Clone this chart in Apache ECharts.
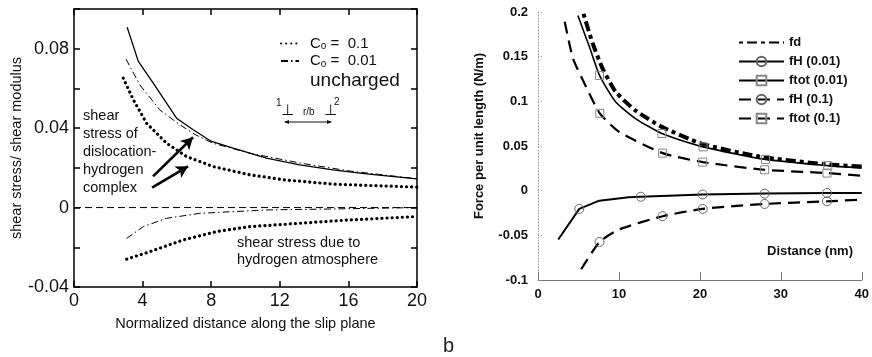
<!DOCTYPE html>
<html>
<head>
<meta charset="utf-8">
<script src="https://cdn.jsdelivr.net/npm/echarts@6/dist/echarts.min.js"></script>
<style>
  html, body { margin: 0; padding: 0; background: #fff; }
  #chart { width: 872px; height: 357px; }
</style>
</head>
<body>
<div id="chart"></div>
<script>
// ---- panel a : normalized shear stress ----
const unchargedX = [3.1, 3.75, 4.62, 5.98, 6.95, 8.02, 9.28, 11.22, 13.16, 15.1, 17.05, 20];
const unchargedY = [0.0908, 0.0736, 0.0627, 0.045, 0.0392, 0.0333, 0.0299, 0.0249, 0.0215, 0.019, 0.017, 0.0145];

const c001TopX = [3.03, 3.84, 5.0, 6.17, 7.1, 8.1, 10.25, 13.2, 16, 20];
const c001TopY = [0.0748, 0.0618, 0.0492, 0.0417, 0.0366, 0.0324, 0.0274, 0.0224, 0.0185, 0.0145];
const c01TopX = [2.87, 3.46, 4.23, 5.4, 6.56, 8.1, 10.25, 12.2, 15.1, 20];
const c01TopY = [0.0652, 0.0543, 0.0425, 0.0324, 0.0257, 0.0207, 0.0165, 0.014, 0.0118, 0.0103];

const c001LowX = [3.07, 4.04, 5.4, 7.34, 11.2, 15.1, 20];
const c001LowY = [-0.0155, -0.0096, -0.0054, -0.0029, -0.0012, -0.0007, 0];
const c01LowX = [3.07, 4.43, 6.37, 8.3, 10.25, 13.2, 16.1, 20];
const c01LowY = [-0.026, -0.0222, -0.0163, -0.0121, -0.0096, -0.0079, -0.0062, -0.0045];

const zeroX = [0, 20];
const zeroY = [0, 0];

// ---- panel b : force per unit length ----
const fdX = [5.62, 6.75, 7.97, 9.58, 12, 15.25, 20.1, 27.4, 35.5, 40];
const fdY = [0.198, 0.165, 0.137, 0.111, 0.09, 0.0717, 0.053, 0.038, 0.0297, 0.027];

const ftot001X = [4.93, 6.35, 7.6, 9.58, 12, 15.3, 20.4, 28.1, 35.8, 40];
const ftot001Y = [0.196, 0.161, 0.129, 0.0996, 0.081, 0.064, 0.049, 0.035, 0.028, 0.0253];
const fH001X = [2.5, 5.1, 7.56, 11.2, 12.7, 20.35, 28, 35.7, 40];
const fH001Y = [-0.0546, -0.0204, -0.0112, -0.0074, -0.0068, -0.0043, -0.0033, -0.0027, -0.0026];

const ftot01X = [3.3, 4.33, 5.95, 7.64, 10, 15.4, 20.35, 28, 35.7, 40];
const ftot01Y = [0.189, 0.148, 0.116, 0.0866, 0.066, 0.042, 0.032, 0.0234, 0.0197, 0.0167];
const fH01X = [5.34, 7.6, 10, 15.4, 20.35, 28, 35.7, 40];
const fH01Y = [-0.088, -0.0575, -0.0435, -0.0286, -0.0204, -0.0149, -0.0119, -0.010];

// x positions that carry a marker
const ftot001Marks = [7.6, 15.3, 20.4, 28.1, 35.8];
const fH001Marks = [5.1, 12.7, 20.35, 28, 35.7];
const ftot01Marks = [7.64, 15.4, 20.35, 28, 35.7];
const fH01Marks = [7.6, 15.4, 20.35, 28, 35.7];

const zip = (xs, ys) => xs.map((x, i) => [x, ys[i]]);
const withMarks = (xs, ys, marks) => xs.map((x, i) => ({
  value: [x, ys[i]],
  symbol: marks.indexOf(x) >= 0 ? undefined : 'none'
}));

const FONT = 'Liberation Sans, Arial, sans-serif';
const C01 = 'Co = 0.1';
const C001 = 'Co = 0.01';

const dotted = {color: '#000', width: 3.2, type: [0.1, 5], cap: 'round'};
const dashDot = {color: '#000', width: 1, type: [7, 3, 1.5, 3]};

const chart = echarts.init(document.getElementById('chart'));

chart.setOption({
  animation: false,
  color: ['#000'],
  textStyle: {fontFamily: FONT},
  grid: [
    {left: 74, top: 9, width: 343, height: 278},
    {left: 538, top: 12, width: 329, height: 268}
  ],
  legend: [
    {
      left: 275, top: 31, orient: 'vertical', itemWidth: 18, itemHeight: 12, itemGap: 2,
      itemStyle: {opacity: 0},
      data: [C01, C001, {name: 'uncharged', icon: 'none'}],
      textStyle: {
        padding: [0, 0, 0, 6],
        rich: {
          c: {fontSize: 15, fontFamily: FONT, color: '#111'},
          s: {fontSize: 10, fontFamily: FONT, color: '#111', verticalAlign: 'bottom', padding: [6, 0, 0, 0]},
          u: {fontSize: 19, fontFamily: FONT, color: '#111'}
        }
      },
      formatter: function (name) {
        if (name === 'uncharged') return '{u|uncharged}';
        return '{c|C}{s|o}{c| =  ' + name.split('= ')[1] + '}';
      }
    },
    {
      left: 733, top: 31, orient: 'vertical', itemWidth: 45, itemHeight: 12, itemGap: 6,
      data: [{name: 'fd', itemStyle: {opacity: 0}}, 'fH (0.01)', 'ftot (0.01)', 'fH (0.1)', 'ftot (0.1)'],
      textStyle: {fontSize: 13, fontWeight: 'bold', fontFamily: FONT, color: '#111'}
    }
  ],
  xAxis: [
    {
      gridIndex: 0, type: 'value', min: 0, max: 20, interval: 4, position: 'bottom',
      axisLine: {onZero: false, lineStyle: {color: '#000', width: 1.5}},
      axisTick: {inside: true, length: 6, lineStyle: {width: 1.5}},
      axisLabel: {fontSize: 18, color: '#111', margin: 5, fontFamily: FONT},
      splitLine: {show: false},
      name: 'Normalized distance along the slip plane', nameLocation: 'middle', nameGap: 29,
      nameTextStyle: {fontSize: 14.5, color: '#111', fontFamily: FONT}
    },
    {
      gridIndex: 0, type: 'value', min: 0, max: 20, interval: 4, position: 'top',
      axisLine: {onZero: false, lineStyle: {color: '#000', width: 1.5}},
      axisTick: {inside: true, length: 6, lineStyle: {width: 1.5}},
      axisLabel: {show: false}, splitLine: {show: false}
    },
    {
      gridIndex: 1, type: 'value', min: 0, max: 40, interval: 10, position: 'bottom',
      axisLine: {onZero: false, lineStyle: {color: '#777', width: 1}},
      axisTick: {inside: true, length: 8, lineStyle: {color: '#777'}},
      axisLabel: {fontSize: 13, fontWeight: 'bold', color: '#111', margin: 8, fontFamily: FONT},
      splitLine: {show: false}
    }
  ],
  yAxis: [
    {
      gridIndex: 0, type: 'value', min: -0.04, max: 0.1, interval: 0.02, position: 'left',
      axisLine: {onZero: false, lineStyle: {color: '#000', width: 1.5}},
      axisTick: {inside: true, length: 6, lineStyle: {width: 1.5}},
      axisLabel: {
        fontSize: 18, color: '#111', margin: 5, fontFamily: FONT,
        formatter: function (v) {
          const r = Math.round(v * 100);
          return r % 4 === 0 ? String(r / 100) : '';
        }
      },
      splitLine: {show: false},
      name: 'shear stress/ shear modulus', nameLocation: 'middle', nameGap: 47,
      nameTextStyle: {fontSize: 14.5, color: '#111', fontFamily: FONT}
    },
    {
      gridIndex: 0, type: 'value', min: -0.04, max: 0.1, interval: 0.02, position: 'right',
      axisLine: {onZero: false, lineStyle: {color: '#000', width: 1.5}},
      axisTick: {inside: true, length: 6, lineStyle: {width: 1.5}},
      axisLabel: {show: false}, splitLine: {show: false}
    },
    {
      gridIndex: 1, type: 'value', min: -0.1, max: 0.2, interval: 0.05, position: 'left',
      axisLine: {onZero: false, lineStyle: {color: '#999', width: 1, type: [1, 2]}},
      axisTick: {inside: true, length: 5, lineStyle: {color: '#999', type: [1, 2]}},
      axisLabel: {
        fontSize: 13, fontWeight: 'bold', color: '#111', margin: 10, fontFamily: FONT,
        formatter: v => String(+v.toFixed(2))
      },
      splitLine: {show: false},
      name: 'Force per unit length (N/m)', nameLocation: 'middle', nameGap: 52,
      nameTextStyle: {fontSize: 13, fontWeight: 'bold', color: '#111', fontFamily: FONT, padding: [0, 0, 0, 20]}
    }
  ],
  series: [
    {name: 'zero', type: 'line', xAxisIndex: 0, yAxisIndex: 0, symbol: 'none',
      data: zip(zeroX, zeroY), lineStyle: {color: '#000', width: 1, type: [7, 4]}},
    {name: 'uncharged', type: 'line', xAxisIndex: 0, yAxisIndex: 0, symbol: 'none',
      data: zip(unchargedX, unchargedY), lineStyle: {color: '#000', width: 1.3}},
    {name: C001, type: 'line', xAxisIndex: 0, yAxisIndex: 0, symbol: 'none',
      data: zip(c001TopX, c001TopY), lineStyle: dashDot},
    {name: C001, type: 'line', xAxisIndex: 0, yAxisIndex: 0, symbol: 'none',
      data: zip(c001LowX, c001LowY), lineStyle: dashDot},
    {name: C01, type: 'line', xAxisIndex: 0, yAxisIndex: 0, symbol: 'none',
      data: zip(c01TopX, c01TopY), lineStyle: dotted,
      markLine: {
        silent: true, symbol: ['none', 'arrow'], symbolSize: [10, 12],
        label: {show: false},
        lineStyle: {color: '#000', width: 2.6, type: 'solid'},
        data: [
          [{coord: [4.61, 0.0157]}, {coord: [6.94, 0.0354]}],
          [{coord: [4.55, 0.0101]}, {coord: [6.65, 0.0208]}]
        ]
      }},
    {name: C01, type: 'line', xAxisIndex: 0, yAxisIndex: 0, symbol: 'none',
      data: zip(c01LowX, c01LowY), lineStyle: dotted},

    {name: 'fd', type: 'line', xAxisIndex: 2, yAxisIndex: 2, symbol: 'none', smooth: 0.2,
      data: zip(fdX, fdY), lineStyle: {color: '#000', width: 4, type: [4, 4, 10, 4]}},
    {name: 'fH (0.01)', type: 'line', xAxisIndex: 2, yAxisIndex: 2, symbol: 'circle', symbolSize: 9,
      data: withMarks(fH001X, fH001Y, fH001Marks),
      itemStyle: {color: 'transparent', borderColor: '#666', borderWidth: 1},
      lineStyle: {color: '#000', width: 2}},
    {name: 'ftot (0.01)', type: 'line', xAxisIndex: 2, yAxisIndex: 2, symbol: 'rect', symbolSize: 8, smooth: 0.2,
      data: withMarks(ftot001X, ftot001Y, ftot001Marks),
      itemStyle: {color: 'transparent', borderColor: '#888', borderWidth: 1},
      lineStyle: {color: '#000', width: 1.6}},
    {name: 'fH (0.1)', type: 'line', xAxisIndex: 2, yAxisIndex: 2, symbol: 'circle', symbolSize: 9, smooth: 0.2,
      data: withMarks(fH01X, fH01Y, fH01Marks),
      itemStyle: {color: 'transparent', borderColor: '#666', borderWidth: 1},
      lineStyle: {color: '#000', width: 2.2, type: [12, 7]}},
    {name: 'ftot (0.1)', type: 'line', xAxisIndex: 2, yAxisIndex: 2, symbol: 'rect', symbolSize: 8, smooth: 0.2,
      data: withMarks(ftot01X, ftot01Y, ftot01Marks),
      itemStyle: {color: 'transparent', borderColor: '#888', borderWidth: 1},
      lineStyle: {color: '#000', width: 2.2, type: [12, 7]}}
  ],
  graphic: [
    {type: 'text', left: 83, top: 107, style: {
      text: 'shear\nstress of\ndislocation-\nhydrogen\ncomplex',
      font: '14.5px ' + FONT, lineHeight: 18, fill: '#111'}},
    {type: 'text', left: 237, top: 234, style: {
      text: 'shear stress due to\nhydrogen atmosphere',
      font: '14.5px ' + FONT, lineHeight: 17, fill: '#111'}},
    // dislocation pair sketch
    {type: 'text', left: 276, top: 98, style: {text: '1', font: '10px ' + FONT, fill: '#111'}},
    {type: 'text', left: 281, top: 104, style: {text: '\u22A5', font: '15px DejaVu Sans', fill: '#111'}},
    {type: 'text', left: 303, top: 107, style: {text: 'r/b', font: '10px ' + FONT, fill: '#111'}},
    {type: 'text', left: 324, top: 104, style: {text: '\u22A5', font: '15px DejaVu Sans', fill: '#111'}},
    {type: 'text', left: 334, top: 97, style: {text: '2', font: '10px ' + FONT, fill: '#111'}},
    {type: 'line', shape: {x1: 285, y1: 122, x2: 331, y2: 122}, style: {stroke: '#111', lineWidth: 1}},
    {type: 'polygon', shape: {points: [[284, 122], [289, 120], [289, 124]]}, style: {fill: '#111'}},
    {type: 'polygon', shape: {points: [[332, 122], [327, 120], [327, 124]]}, style: {fill: '#111'}},
    // panel b annotations
    {type: 'text', left: 767, top: 245, style: {text: 'Distance (nm)', font: 'bold 13px ' + FONT, fill: '#111'}},
    {type: 'text', left: 443, top: 336, style: {text: 'b', font: '20px ' + FONT, fill: '#222'}}
  ]
});
</script>
</body>
</html>
